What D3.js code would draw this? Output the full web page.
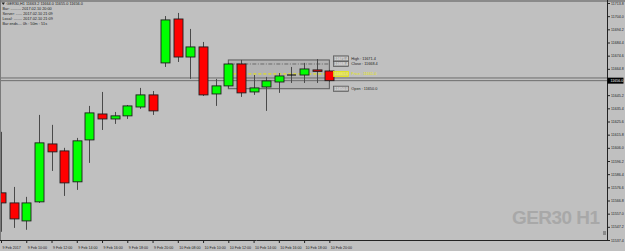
<!DOCTYPE html>
<html>
<head>
<meta charset="utf-8">
<script src="https://cdn.jsdelivr.net/npm/d3@7/dist/d3.min.js"></script>
<style>
  html, body { margin: 0; padding: 0; background: #c0c0c0; }
  svg { display: block; font-family: "Liberation Sans", Arial, sans-serif; }
</style>
</head>
<body>
<svg id="chart" width="625" height="251"></svg>
<script>
// GER30 H1 bars, 9 Feb 2017 08:00 .. 10 Feb 2017 20:00
var barTimes = ["9 Feb 08:00","9 Feb 09:00","9 Feb 10:00","9 Feb 11:00","9 Feb 12:00","9 Feb 13:00","9 Feb 14:00",
  "9 Feb 15:00","9 Feb 16:00","9 Feb 17:00","9 Feb 18:00","9 Feb 19:00","9 Feb 20:00","9 Feb 21:00",
  "10 Feb 08:00","10 Feb 09:00","10 Feb 10:00","10 Feb 11:00","10 Feb 12:00","10 Feb 13:00","10 Feb 14:00",
  "10 Feb 15:00","10 Feb 16:00","10 Feb 17:00","10 Feb 18:00","10 Feb 19:00","10 Feb 20:00"];
var open  = [11572.5, 11565.0, 11551.6, 11565.8, 11608.9, 11603.7, 11580.7, 11611.9, 11631.2, 11627.5, 11629.8, 11636.4, 11645.4, 11669.2,
  11701.9, 11673.6, 11681.1, 11646.1, 11652.1, 11668.4, 11647.6, 11651.3, 11655.0, 11660.2, 11660.2, 11664.0, 11663.2];
var high  = [11617.9, 11576.9, 11569.5, 11630.5, 11623.1, 11606.0, 11613.4, 11637.2, 11647.6, 11632.7, 11637.9, 11650.6, 11648.3, 11704.1,
  11706.4, 11694.5, 11684.8, 11657.3, 11669.2, 11671.4, 11660.2, 11658.8, 11661.7, 11666.2, 11669.2, 11672.1, 11664.0];
var low   = [11543.5, 11546.4, 11545.0, 11565.0, 11588.8, 11570.2, 11574.7, 11594.8, 11619.3, 11623.8, 11627.5, 11635.0, 11630.5, 11666.2,
  11669.9, 11657.3, 11644.6, 11637.2, 11650.6, 11643.9, 11645.4, 11633.5, 11646.9, 11654.3, 11654.3, 11654.3, 11655.0];
var close = [11565.0, 11553.1, 11565.0, 11609.7, 11603.0, 11579.9, 11611.2, 11632.0, 11627.5, 11629.8, 11637.2, 11645.4, 11633.5, 11701.2,
  11673.6, 11681.1, 11645.4, 11652.1, 11668.4, 11646.9, 11650.6, 11655.8, 11659.5, 11660.2, 11664.7, 11662.9, 11656.0];

var xTickTimes  = ["9 Feb 08:00","9 Feb 10:00","9 Feb 12:00","9 Feb 14:00","9 Feb 16:00","9 Feb 18:00","9 Feb 20:00",
  "10 Feb 08:00","10 Feb 10:00","10 Feb 12:00","10 Feb 14:00","10 Feb 16:00","10 Feb 18:00","10 Feb 20:00"];
var xTickLabels = ["9 Feb 2017","9 Feb 10:00","9 Feb 12:00","9 Feb 14:00","9 Feb 16:00","9 Feb 18:00","9 Feb 20:00",
  "10 Feb 08:00","10 Feb 10:00","10 Feb 12:00","10 Feb 14:00","10 Feb 16:00","10 Feb 18:00","10 Feb 20:00"];
var yTickLabels = ["11713.8","11704.0","11694.2","11684.4","11674.6","11664.8","11655.0","11645.2","11635.4","11625.6",
  "11615.8","11606.0","11596.2","11586.4","11576.6","11566.8","11557.0","11547.2","11537.4"];

var bid = 11656.0, ask = 11658.0;
// range object drawn over the last bars
var boxFrom = "10 Feb 12:00", boxTo = "10 Feb 20:00";
var levelNames  = ["High", "Close", "Price", "Open"];
var levelValues = [11671.4, 11668.4, 11661.0, 11650.0];

var headerLines = ["GER30,H1  11663.2 11664.0 11655.0 11656.0",
  "Bar: .......... 2017.02.10 20:00",
  "Server: ...... 2017.02.10 21:09",
  "Local: ........ 2017.02.10 21:09",
  "Bar ends.... 0h : 50m : 51s"];

var svg = d3.select("#chart");
var W = 625, H = 251, right = 607, bottom = 240;

var x = d3.scaleLinear().domain([0, 48]).range([1, right + 0.2]);
var y = d3.scaleLinear().domain([+yTickLabels[yTickLabels.length - 1], +yTickLabels[0]]).range([bottom, 3]);

svg.append("rect").attr("width", W).attr("height", H).attr("fill", "#c0c0c0");

// watermark
svg.append("text").attr("x", 600).attr("y", 224).attr("text-anchor", "end")
  .attr("font-size", 19).attr("font-weight", "bold").attr("fill", "#a8a8a8")
  .attr("font-family", "'Liberation Sans Narrow','Liberation Sans',sans-serif")
  .attr("textLength", 88).text("GER30 H1");

// range box
var bi0 = barTimes.indexOf(boxFrom), bi1 = barTimes.indexOf(boxTo);
svg.append("rect").attr("x", x(bi0)).attr("y", y(levelValues[0]))
  .attr("width", x(bi1) - x(bi0)).attr("height", y(levelValues[3]) - y(levelValues[0]))
  .attr("fill", "#b3b3b3").attr("stroke", "#5a5a5a").attr("stroke-width", 1);
svg.append("line").attr("x1", x(bi0)).attr("x2", x(bi1))
  .attr("y1", y(levelValues[1])).attr("y2", y(levelValues[1]))
  .attr("stroke", "#6a6a6a").attr("stroke-dasharray", "4,1.5,1,1.5");

// bid / ask lines
[ask, bid].forEach(function(v) {
  svg.append("line").attr("x1", 0).attr("x2", right).attr("y1", y(v)).attr("y2", y(v))
    .attr("stroke", "#6c6c6c").attr("stroke-width", 1);
});

// yellow price line
svg.append("line").attr("x1", x(bi0)).attr("x2", x(bi1) + 4)
  .attr("y1", y(levelValues[2])).attr("y2", y(levelValues[2]))
  .attr("stroke", "#e8e800").attr("stroke-width", 1).attr("stroke-dasharray", "3,2");

// candles
var idx = d3.range(barTimes.length);
var g = svg.append("g");
g.selectAll(".wick").data(idx).join("line")
  .attr("x1", function(i) { return Math.round(x(i)) + 0.5; })
  .attr("x2", function(i) { return Math.round(x(i)) + 0.5; })
  .attr("y1", function(i) { return y(high[i]); })
  .attr("y2", function(i) { return y(low[i]); })
  .attr("stroke", "#4a4a4a").attr("stroke-width", 1);
g.selectAll(".body").data(idx.filter(function(i) { return open[i] !== close[i]; })).join("rect")
  .attr("x", function(i) { return Math.round(x(i)) - 4; })
  .attr("width", 9)
  .attr("y", function(i) { return y(Math.max(open[i], close[i])); })
  .attr("height", function(i) { return Math.max(1, Math.abs(y(open[i]) - y(close[i]))); })
  .attr("fill", function(i) { return close[i] > open[i] ? "#00ff00" : "#ff0000"; })
  .attr("stroke", "#1e1e1e").attr("stroke-width", 0.9);
g.selectAll(".doji").data(idx.filter(function(i) { return open[i] === close[i]; })).join("line")
  .attr("x1", function(i) { return Math.round(x(i)) - 4; })
  .attr("x2", function(i) { return Math.round(x(i)) + 5; })
  .attr("y1", function(i) { return y(open[i]); })
  .attr("y2", function(i) { return y(open[i]); })
  .attr("stroke", "#000").attr("stroke-width", 1);

// level labels at the right of the box
var lx = x(bi1) + 4;
levelValues.forEach(function(v, k) {
  var isPrice = levelNames[k] === "Price";
  var cy = y(v) + (k === 0 ? -1.5 : 0);
  svg.append("rect").attr("x", lx).attr("y", cy - 2.6).attr("width", 15).attr("height", 5.2)
    .attr("fill", isPrice ? "#d6d66a" : "#a9a9a9").attr("stroke", isPrice ? "#e8e800" : "#505050").attr("stroke-width", 0.7);
  svg.append("text").attr("x", lx + 1.2).attr("y", cy + 1.4).attr("font-size", 3.8)
    .attr("fill", isPrice ? "#ffff40" : "#f4f4f4").text(v.toFixed(1));
  svg.append("text").attr("x", lx + 18).attr("y", cy + 1.4).attr("font-size", 3.8)
    .attr("fill", isPrice ? "#e8e800" : "#202020").text(levelNames[k] + " :  " + v.toFixed(1));
});

// frame
svg.append("line").attr("x1", 0).attr("x2", W).attr("y1", 1).attr("y2", 1).attr("stroke", "#8a8a8a").attr("stroke-width", 2);
svg.append("line").attr("x1", 0.5).attr("x2", 0.5).attr("y1", 0).attr("y2", bottom).attr("stroke", "#7a7a7a");

// y axis (the label hidden under the bid box is skipped, as the terminal does)
var yShown = yTickLabels.filter(function(t) { return Math.abs(y(+t) - y(bid)) > 5; });
var yAxis = svg.append("g").attr("transform", "translate(" + right + ",0)")
  .call(d3.axisRight(y).tickValues(yShown.map(Number)).tickSize(3).tickPadding(1)
    .tickFormat(function(d, i) { return yShown[i]; }));
yAxis.select(".domain").remove();
yAxis.selectAll("line").attr("stroke", "#222");
yAxis.selectAll("text").attr("font-size", 3.6).attr("fill", "#222").attr("font-family", "'Liberation Sans',sans-serif");
svg.append("line").attr("x1", right + 0.5).attr("x2", right + 0.5).attr("y1", 0).attr("y2", bottom + 1).attr("stroke", "#222");

// current bid label
svg.append("rect").attr("x", right + 0.5).attr("y", y(bid) - 3).attr("width", 16).attr("height", 6).attr("fill", "#000");
svg.append("text").attr("x", right + 3.5).attr("y", y(bid) + 1.4).attr("font-size", 3.6).attr("fill", "#fff").text(bid.toFixed(1));

// x axis
var xAxis = svg.append("g").attr("transform", "translate(0," + bottom + ")")
  .call(d3.axisBottom(x).tickValues(xTickTimes.map(function(t) { return barTimes.indexOf(t); }))
    .tickSize(3).tickFormat(function(d, i) { return xTickLabels[i]; }));
xAxis.select(".domain").remove();
xAxis.selectAll("line").attr("stroke", "#222");
xAxis.selectAll("text").attr("font-size", 3.6).attr("fill", "#222").attr("text-anchor", "start")
  .attr("dx", 1).attr("dy", 3.2).attr("font-family", "'Liberation Sans',sans-serif");
svg.append("line").attr("x1", 0).attr("x2", right + 1).attr("y1", bottom + 0.5).attr("y2", bottom + 0.5).attr("stroke", "#222");

// small corner icon
svg.append("rect").attr("x", 603).attr("y", 231).attr("width", 3).attr("height", 4).attr("fill", "#8a8a8a");

// header
svg.append("path").attr("d", "M1.5,2.5 L5,2.5 L3.25,5 Z").attr("fill", "#222");
headerLines.forEach(function(t, k) {
  svg.append("text").attr("x", k === 0 ? 6.5 : 2.5).attr("y", 5 + k * 5.1)
    .attr("font-size", 3.8).attr("fill", "#222").text(t);
});
</script>
</body>
</html>
